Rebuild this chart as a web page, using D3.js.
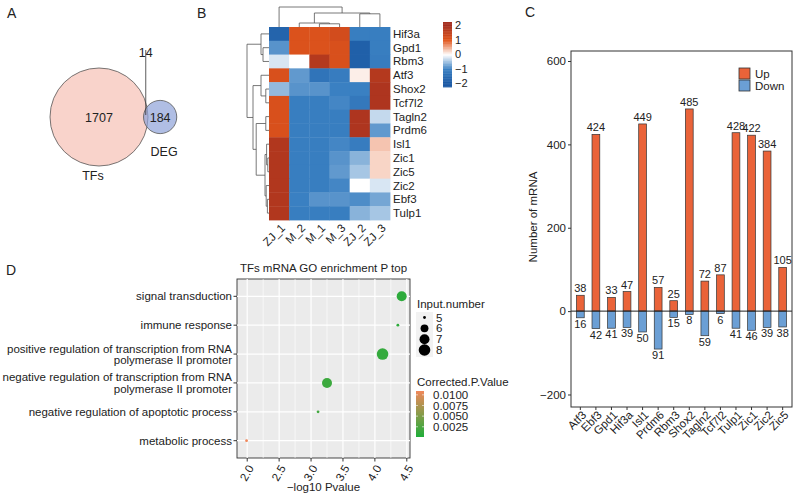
<!DOCTYPE html>
<html>
<head>
<meta charset="utf-8">
<title>TFs figure</title>
<style>
  body, html { margin: 0; padding: 0; background: #fff; }
  #svg { display: block; font-family: "Liberation Sans", Arial, sans-serif; }
</style>
</head>
<body>
<svg id="svg" width="798" height="499"></svg>
<script src="https://d3js.org/d3.v7.min.js"></script>
<script>
// ---------- A: venn ----------
const vennSets = ['TFs', 'DEG']
const vennOnly = [1707, 184]
const vennShared = 14

// ---------- B: heatmap ----------
const hmRows = ['Hif3a', 'Gpd1', 'Rbm3', 'Atf3', 'Shox2', 'Tcf7l2', 'Tagln2', 'Prdm6', 'Isl1', 'Zic1', 'Zic5', 'Zic2', 'Ebf3', 'Tulp1']
const hmCols = ['ZJ_1', 'M_2', 'M_1', 'M_3', 'ZJ_2', 'ZJ_3']
const hmValues = [
  [-1.7, 1.1, 1.1, 1.25, -1.05, -1.05],
  [-0.85, 1.1, 1.1, 1.15, -1.8, -1.05],
  [-0.2, 0.0, 1.75, 1.15, -1.8, -1.1],
  [1.15, -0.8, -1.3, -1.1, 0.1, 1.75],
  [-0.55, -0.85, -0.85, -1.0, -1.0, 1.85],
  [1.15, -1.05, -1.05, -0.95, -1.2, 1.85],
  [1.15, -1.05, -1.05, -1.05, 1.85, -0.3],
  [1.15, -1.05, -1.05, -1.05, 1.85, -0.8],
  [1.8, -1.05, -1.05, -0.95, -1.1, 0.35],
  [1.8, -1.05, -1.05, -0.85, -0.6, 0.25],
  [1.8, -1.05, -1.05, -0.8, -0.45, 0.25],
  [1.8, -1.05, -1.05, -0.95, 0.0, -0.2],
  [1.8, -1.0, -0.85, -0.85, -0.9, -0.7],
  [1.8, -1.05, -1.05, -1.05, -0.6, -0.45]
]
const hmLegendTicks = [-2, -1, 0, 1, 2]
// cluster trees (h = merge height)
const colTree = { h: 5, c: [{ leaf: 'ZJ_1' }, { h: 3.5, c: [
  { h: 1, c: [{ leaf: 'M_2' }, { h: 0.8, c: [{ leaf: 'M_1' }, { leaf: 'M_3' }] }] },
  { h: 3.3, c: [{ leaf: 'ZJ_2' }, { leaf: 'ZJ_3' }] }] }] }
const rowTree = { h: 5.5, c: [
  { h: 2, c: [{ leaf: 'Hif3a' }, { h: 1.5, c: [{ leaf: 'Gpd1' }, { leaf: 'Rbm3' }] }] },
  { h: 4, c: [
    { h: 2, c: [{ leaf: 'Atf3' }, { h: 0.8, c: [{ leaf: 'Shox2' }, { leaf: 'Tcf7l2' }] }] },
    { h: 3.2, c: [
      { h: 0.8, c: [{ leaf: 'Tagln2' }, { leaf: 'Prdm6' }] },
      { h: 1, c: [
        { h: 0.6, c: [{ leaf: 'Isl1' }, { h: 0.3, c: [{ leaf: 'Zic1' }, { leaf: 'Zic5' }] }] },
        { h: 0.7, c: [{ leaf: 'Zic2' }, { h: 0.4, c: [{ leaf: 'Ebf3' }, { leaf: 'Tulp1' }] }] }] }] }] }] }

// ---------- C: up/down bars ----------
const genes = ['Atf3', 'Ebf3', 'Gpd1', 'Hif3a', 'Isl1', 'Prdm6', 'Rbm3', 'Shox2', 'Tagln2', 'Tcf7l2', 'Tulp1', 'Zic1', 'Zic2', 'Zic5']
const upCounts = [38, 424, 33, 47, 449, 57, 25, 485, 72, 87, 428, 422, 384, 105]
const downCounts = [16, 42, 41, 39, 50, 91, 15, 8, 59, 6, 41, 46, 39, 38]
const cTicks = [-200, 0, 200, 400, 600]

// ---------- D: GO dot plot ----------
const goTerms = ['signal transduction', 'immune response',
  'positive regulation of transcription from RNA\npolymerase II promoter',
  'negative regulation of transcription from RNA\npolymerase II promoter',
  'negative regulation of apoptotic process', 'metabolic process']
const goLogP = [4.42, 4.36, 4.12, 3.25, 3.11, 1.99]
const goInput = [7, 5, 8, 7, 5, 5]
const goPadj = [0.0009, 0.0009, 0.0012, 0.0016, 0.0019, 0.0109]
const goTicks = [2.0, 2.5, 3.0, 3.5, 4.0, 4.5]
const sizeLegend = [5, 6, 7, 8]
const padjLegend = [0.0100, 0.0075, 0.0050, 0.0025]

const svg = d3.select('#svg')
const ink = '#222'
const fs = 11.5

// panel letters
const letters = [['A', 7, 18], ['B', 197, 18], ['C', 525, 17], ['D', 6, 275]]
svg.selectAll('.letter').data(letters).join('text')
  .attr('x', d => d[1]).attr('y', d => d[2])
  .attr('font-size', 14).attr('fill', ink).text(d => d[0])

// ================= A =================
{
  const k = d3.scaleSqrt().domain([0, vennOnly[0] + vennShared]).range([0, 49])
  const r1 = k(vennOnly[0] + vennShared)
  const r2 = k(vennOnly[1] + vennShared)
  const target = Math.PI * k(vennShared) ** 2
  function lens(d) {
    const a = r1 * r1 * Math.acos((d * d + r1 * r1 - r2 * r2) / (2 * d * r1))
    const b = r2 * r2 * Math.acos((d * d + r2 * r2 - r1 * r1) / (2 * d * r2))
    const c = 0.5 * Math.sqrt((-d + r1 + r2) * (d + r1 - r2) * (d - r1 + r2) * (d + r1 + r2))
    return a + b - c
  }
  let lo = Math.abs(r1 - r2) + 0.01, hi = r1 + r2
  for (let i = 0; i < 60; i++) {
    const mid = (lo + hi) / 2
    if (lens(mid) > target) lo = mid; else hi = mid
  }
  const cx1 = 99, cy = 117, cx2 = cx1 + lo
  const g = svg.append('g')
  g.append('circle').attr('cx', cx1).attr('cy', cy).attr('r', r1)
    .attr('fill', '#f7c4ba').attr('fill-opacity', 0.75).attr('stroke', '#555').attr('stroke-width', 0.8)
  g.append('circle').attr('cx', cx2).attr('cy', cy).attr('r', r2)
    .attr('fill', '#8ea2d8').attr('fill-opacity', 0.7).attr('stroke', '#555').attr('stroke-width', 0.8)
  const midX = (cx1 + r1 + cx2 - r2) / 2
  g.append('line').attr('x1', midX).attr('x2', midX).attr('y1', 50).attr('y2', cy - 2)
    .attr('stroke', '#333').attr('stroke-width', 0.8)
  g.append('text').attr('x', midX).attr('y', 57).attr('text-anchor', 'middle')
    .attr('font-size', 12.5).attr('fill', ink).text(vennShared)
  g.append('text').attr('x', cx1).attr('y', cy + 5).attr('text-anchor', 'middle')
    .attr('font-size', 12.5).attr('fill', ink).text(vennOnly[0])
  g.append('text').attr('x', cx2).attr('y', cy + 5).attr('text-anchor', 'middle')
    .attr('font-size', 12.5).attr('fill', ink).text(vennOnly[1])
  g.append('text').attr('x', cx1 - 6).attr('y', cy + r1 + 14).attr('text-anchor', 'middle')
    .attr('font-size', 12.5).attr('fill', ink).text(vennSets[0])
  g.append('text').attr('x', cx2 + 4).attr('y', cy + r2 + 22).attr('text-anchor', 'middle')
    .attr('font-size', 12.5).attr('fill', ink).text(vennSets[1])
}

// ================= B =================
{
  const x = d3.scaleBand().domain(hmCols).range([269, 390])
  const y = d3.scaleBand().domain(hmRows).range([27, 220])
  const color = d3.scaleLinear().domain([-2, -1, 0, 1, 2])
    .range(['#1a58a3', '#3a80c2', '#ffffff', '#e1561c', '#a52f1f']).clamp(true)
  const g = svg.append('g')

  const cells = []
  hmRows.forEach((r, i) => hmCols.forEach((c, j) => cells.push({ r, c, v: hmValues[i][j] })))
  g.selectAll('.cell').data(cells).join('rect')
    .attr('x', d => x(d.c)).attr('y', d => y(d.r))
    .attr('width', x.bandwidth() + 0.4).attr('height', y.bandwidth() + 0.4)
    .attr('fill', d => color(d.v))

  g.selectAll('.rlab').data(hmRows).join('text')
    .attr('x', 393).attr('y', d => y(d) + y.bandwidth() / 2)
    .attr('dy', '0.35em').attr('font-size', fs).attr('fill', ink).text(d => d)

  g.selectAll('.clab').data(hmCols).join('text')
    .attr('transform', d => `translate(${x(d) + x.bandwidth() / 2 + 1},223) rotate(-45)`)
    .attr('text-anchor', 'end').attr('dy', '0.7em')
    .attr('font-size', fs).attr('fill', ink).text(d => d)

  // dendrograms
  function walk(node, pos, segs) {
    if (node.leaf) return { p: pos(node.leaf), h: 0 }
    const kids = node.c.map(k => walk(k, pos, segs))
    kids.forEach(k => segs.push([k.p, k.h, k.p, node.h]))
    segs.push([kids[0].p, node.h, kids[1].p, node.h])
    return { p: d3.mean(kids, k => k.p), h: node.h }
  }
  const colSegs = [], rowSegs = []
  walk(colTree, d => x(d) + x.bandwidth() / 2, colSegs)
  walk(rowTree, d => y(d) + y.bandwidth() / 2, rowSegs)
  const colH = d3.scaleLinear().domain([0, 5]).range([27, 7])
  const rowH = d3.scaleLinear().domain([0, 5.5]).range([269, 247])
  g.selectAll('.cseg').data(colSegs).join('line')
    .attr('x1', d => d[0]).attr('y1', d => colH(d[1]))
    .attr('x2', d => d[2]).attr('y2', d => colH(d[3]))
    .attr('stroke', '#555').attr('stroke-width', 0.8)
  g.selectAll('.rseg').data(rowSegs).join('line')
    .attr('y1', d => d[0]).attr('x1', d => rowH(d[1]))
    .attr('y2', d => d[2]).attr('x2', d => rowH(d[3]))
    .attr('stroke', '#555').attr('stroke-width', 0.8)

  // legend
  const legY = d3.scaleLinear().domain([-2.25, 2.25]).range([87, 22])
  const steps = d3.range(-2.25, 2.25, 0.05)
  g.selectAll('.leg').data(steps).join('rect')
    .attr('x', 443).attr('width', 9)
    .attr('y', d => legY(d + 0.05)).attr('height', d => legY(d) - legY(d + 0.05) + 0.4)
    .attr('fill', d => color(d + 0.025))
  g.selectAll('.legt').data(hmLegendTicks).join('text')
    .attr('x', 455).attr('y', d => legY(d)).attr('dy', '0.35em')
    .attr('font-size', 11).attr('fill', ink)
    .text(d => d < 0 ? '\u2212' + Math.abs(d) : d)
}

// ================= C =================
{
  const x = d3.scaleBand().domain(genes).range([571, 792]).paddingInner(0.5).paddingOuter(0.35)
  const y = d3.scaleLinear().domain([-230, 624]).range([407, 51])
  const g = svg.append('g')
  const up = genes.map((k, i) => ({ k, v: upCounts[i] }))
  const dn = genes.map((k, i) => ({ k, v: downCounts[i] }))

  g.selectAll('.up').data(up).join('rect')
    .attr('x', d => x(d.k)).attr('width', x.bandwidth())
    .attr('y', d => y(d.v)).attr('height', d => y(0) - y(d.v))
    .attr('fill', '#ea6339').attr('stroke', '#333').attr('stroke-width', 0.7)
  g.selectAll('.dn').data(dn).join('rect')
    .attr('x', d => x(d.k)).attr('width', x.bandwidth())
    .attr('y', y(0)).attr('height', d => y(-d.v) - y(0))
    .attr('fill', '#6b9fd5').attr('stroke', '#333').attr('stroke-width', 0.7)

  g.append('line').attr('x1', 571).attr('x2', 792).attr('y1', y(0)).attr('y2', y(0))
    .attr('stroke', ink).attr('stroke-width', 1)

  g.selectAll('.upl').data(up).join('text')
    .attr('x', d => x(d.k) + x.bandwidth() / 2).attr('y', d => y(d.v) - 3)
    .attr('text-anchor', 'middle').attr('font-size', 11).attr('fill', ink).text(d => d.v)
  g.selectAll('.dnl').data(dn).join('text')
    .attr('x', d => x(d.k) + x.bandwidth() / 2).attr('y', d => y(-d.v) + 10)
    .attr('text-anchor', 'middle').attr('font-size', 11).attr('fill', ink).text(d => d.v)

  g.append('rect').attr('x', 571).attr('y', 51).attr('width', 221).attr('height', 356)
    .attr('fill', 'none').attr('stroke', '#333').attr('stroke-width', 1)

  const ya = g.append('g').attr('transform', 'translate(571,0)')
    .call(d3.axisLeft(y).tickValues(cTicks).tickSize(3).tickPadding(2).tickFormat(d => d < 0 ? '\u2212' + Math.abs(d) : d))
  ya.select('.domain').remove()
  ya.selectAll('text').attr('font-size', fs).attr('fill', ink).attr('font-family', null)
  ya.selectAll('line').attr('stroke', '#333')

  const xa = g.append('g').attr('transform', 'translate(0,407)')
    .call(d3.axisBottom(x).tickSize(3).tickFormat(''))
  xa.select('.domain').remove()
  xa.selectAll('line').attr('stroke', '#333')
  g.selectAll('.xl').data(genes).join('text')
    .attr('transform', d => `translate(${x(d) + x.bandwidth() / 2 + 1},410) rotate(-45)`)
    .attr('text-anchor', 'end').attr('dy', '0.7em')
    .attr('font-size', fs).attr('fill', ink).text(d => d)

  g.append('text').attr('transform', 'translate(537,217) rotate(-90)')
    .attr('text-anchor', 'middle').attr('font-size', fs).attr('fill', ink).text('Number of mRNA')

  const leg = [['Up', '#ea6339'], ['Down', '#6b9fd5']]
  g.selectAll('.lr').data(leg).join('rect')
    .attr('x', 739).attr('y', (d, i) => 68 + i * 12).attr('width', 11).attr('height', 11)
    .attr('fill', d => d[1]).attr('stroke', '#333').attr('stroke-width', 0.8)
  g.selectAll('.lt').data(leg).join('text')
    .attr('x', 755).attr('y', (d, i) => 77.5 + i * 12)
    .attr('font-size', 11.5).attr('fill', ink).text(d => d[0])
}

// ================= D =================
{
  const L = 237, R = 410, T = 279, B = 458
  const x = d3.scaleLinear().domain([1.84, 4.55]).range([L, R])
  const y = d3.scalePoint().domain(goTerms).range([T, B]).padding(0.6)
  const rad = v => 1.4 + 4.4 * Math.sqrt((v - 5) / 3)
  const color = d3.scaleLinear().domain([0.0001, 0.0109]).range(['#1fae3a', '#f0875a'])
  const g = svg.append('g')

  g.append('rect').attr('x', L).attr('y', T).attr('width', R - L).attr('height', B - T)
    .attr('fill', '#ebebeb').attr('stroke', '#333').attr('stroke-width', 0.9)

  const minor = goTicks.slice(0, -1).map(t => t + 0.25)
  g.selectAll('.gmin').data(minor).join('line')
    .attr('x1', d => x(d)).attr('x2', d => x(d)).attr('y1', T).attr('y2', B)
    .attr('stroke', '#fff').attr('stroke-width', 0.6)
  g.selectAll('.gx').data(goTicks).join('line')
    .attr('x1', d => x(d)).attr('x2', d => x(d)).attr('y1', T).attr('y2', B)
    .attr('stroke', '#fff').attr('stroke-width', 1.2)
  g.selectAll('.gy').data(goTerms).join('line')
    .attr('x1', L).attr('x2', R).attr('y1', d => y(d)).attr('y2', d => y(d))
    .attr('stroke', '#fff').attr('stroke-width', 1.2)

  const pts = goTerms.map((t, i) => ({ t, p: goLogP[i], n: goInput[i], q: goPadj[i] }))
  g.selectAll('.pt').data(pts).join('circle')
    .attr('cx', d => x(d.p)).attr('cy', d => y(d.t)).attr('r', d => rad(d.n))
    .attr('fill', d => color(d.q))

  // y axis
  g.selectAll('.yt').data(goTerms).join('line')
    .attr('x1', L - 3.5).attr('x2', L).attr('y1', d => y(d)).attr('y2', d => y(d))
    .attr('stroke', '#333')
  g.selectAll('.yl').data(goTerms).join('text')
    .attr('x', L - 5).attr('y', d => y(d)).attr('text-anchor', 'end')
    .attr('font-size', fs).attr('fill', ink)
    .each(function (d) {
      const lines = d.split('\n')
      const t = d3.select(this)
      lines.forEach((s, i) => {
        t.append('tspan').attr('x', L - 5)
          .attr('dy', i === 0 ? (lines.length > 1 ? -1.5 : 4) : 11.6).text(s)
      })
    })

  // x axis
  g.selectAll('.xt').data(goTicks).join('line')
    .attr('x1', d => x(d)).attr('x2', d => x(d)).attr('y1', B).attr('y2', B + 3.5)
    .attr('stroke', '#333')
  g.selectAll('.xl').data(goTicks).join('text')
    .attr('transform', d => `translate(${x(d)},464) rotate(-60)`)
    .attr('text-anchor', 'end').attr('dy', '0.7em')
    .attr('font-size', fs).attr('fill', ink).text(d => d.toFixed(1))
  g.append('text').attr('x', (L + R) / 2).attr('y', 491).attr('text-anchor', 'middle')
    .attr('font-size', fs).attr('fill', ink).text('\u2212log10 Pvalue')

  g.append('text').attr('x', (L + R) / 2).attr('y', 272).attr('text-anchor', 'middle')
    .attr('font-size', fs).attr('fill', ink).text('TFs mRNA GO enrichment P top')

  // size legend
  g.append('text').attr('x', 417).attr('y', 308).attr('font-size', fs).attr('fill', ink).text('Input.number')
  const sy = d3.scaleLinear().domain([5, 8]).range([317.5, 350])
  g.append('rect').attr('x', 416).attr('y', 312).attr('width', 17).attr('height', 45).attr('fill', '#f2f2f2')
  g.selectAll('.sd').data(sizeLegend).join('circle')
    .attr('cx', 424.5).attr('cy', d => sy(d)).attr('r', d => rad(d)).attr('fill', '#000')
  g.selectAll('.sl').data(sizeLegend).join('text')
    .attr('x', 436).attr('y', d => sy(d)).attr('dy', '0.35em')
    .attr('font-size', fs).attr('fill', ink).text(d => d)

  // colour legend
  g.append('text').attr('x', 417).attr('y', 386).attr('font-size', fs).attr('fill', ink).text('Corrected.P.Value')
  const cy = d3.scaleLinear().domain([0.0001, 0.0109]).range([437, 391])
  const grad = svg.append('defs').append('linearGradient').attr('id', 'padjGrad')
    .attr('x1', 0).attr('y1', 1).attr('x2', 0).attr('y2', 0)
  grad.selectAll('stop').data([0, 0.5, 1]).join('stop')
    .attr('offset', d => d)
    .attr('stop-color', d => color(0.0001 + d * (0.0109 - 0.0001)))
  g.append('rect').attr('x', 416).attr('y', 391).attr('width', 8).attr('height', 46)
    .attr('fill', 'url(#padjGrad)')
  g.selectAll('.ct').data(padjLegend).join('line')
    .attr('x1', 416).attr('x2', 418).attr('y1', d => cy(d)).attr('y2', d => cy(d))
    .attr('stroke', '#fff').attr('stroke-width', 0.6)
  g.selectAll('.ct2').data(padjLegend).join('line')
    .attr('x1', 422).attr('x2', 424).attr('y1', d => cy(d)).attr('y2', d => cy(d))
    .attr('stroke', '#fff').attr('stroke-width', 0.6)
  g.selectAll('.cl').data(padjLegend).join('text')
    .attr('x', 433).attr('y', d => cy(d)).attr('dy', '0.35em')
    .attr('font-size', fs).attr('fill', ink).text(d => d.toFixed(4))
}
</script>
</body>
</html>
